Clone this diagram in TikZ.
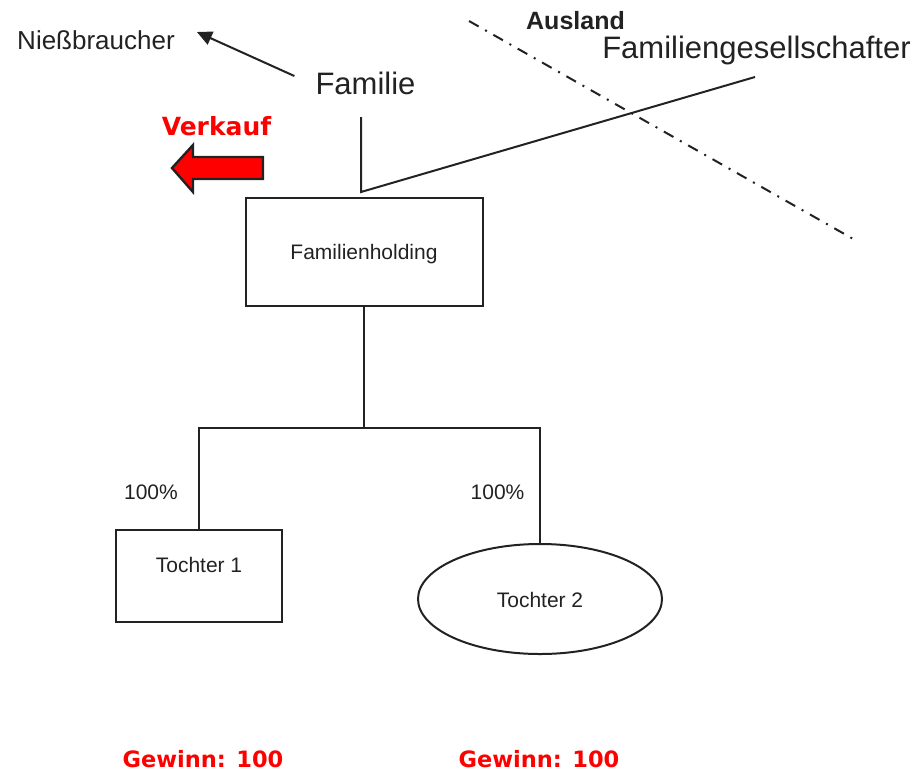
\documentclass[tikz,border=0pt]{standalone}
\usepackage{fontspec}
\setmainfont{Liberation Sans}
\newfontfamily\gewinnfont{DejaVu Sans}
\usetikzlibrary{shapes.geometric,arrows.meta}
\definecolor{ink}{RGB}{34,34,34}
\definecolor{signal}{RGB}{255,0,0}
\tikzset{
  line/.style={draw=ink,line width=2pt},
  orgbox/.style={draw=ink,line width=2pt,rectangle,inner sep=0pt},
  orgoval/.style={draw=ink,line width=2pt,ellipse,inner sep=0pt},
  lbl/.style={text=ink,inner sep=0pt,font=\fontsize{21}{24}\selectfont},
  biglbl/.style={text=ink,inner sep=0pt,font=\fontsize{31}{36}\selectfont},
  redlbl/.style={text=signal,inner sep=0pt,font=\gewinnfont\bfseries\fontsize{22.5}{26}\selectfont},
  border/.style={line width=2pt,draw=ink,dash pattern=on 11pt off 7.5pt on 2pt off 7.5pt},
}
\begin{document}
\begin{tikzpicture}[x=1pt,y=-1pt]
\useasboundingbox (0,0) rectangle (923,774);

% top: shareholders and the border line
\node[lbl,font=\fontsize{26}{30}\selectfont] (niess) at (96,40) {Nießbraucher};
\node[biglbl] (familie) at (365.5,83) {Familie};
\node[text=ink,inner sep=0pt,font=\bfseries\fontsize{25}{28}\selectfont] (ausland) at (575.5,21) {Ausland};
\node[biglbl] (gesell) at (756.5,50) {Familiengesellschafter};

\coordinate (borderA) at (469,21);
\coordinate (borderB) at (855,240);
\draw[border] (borderA) -- (borderB);

% usufruct arrow
\draw[line,-{Triangle[length=15pt,width=14pt]}]
  ([xshift=-21pt,yshift=7pt]familie.west) -- ([xshift=22pt,yshift=8pt]niess.east);

% sale arrow
\node[redlbl,font=\gewinnfont\bfseries\fontsize{25}{28}\selectfont] (verkauf) at (216.5,126) {Verkauf};
\draw[fill=signal,draw=ink,line width=2.4pt,line join=miter]
  (172,168) -- (193,145) -- (193,157) -- (263,157) -- (263,179) -- (193,179) -- (193,192) -- cycle;

% holding and the lines joining it to the shareholders
\node[orgbox,minimum width=237pt,minimum height=108pt] (holding) at (364,252) {};
\node[lbl] (holdingtxt) at (364,254) {Familienholding};
\coordinate (famfoot) at (361,117);
\coordinate (join) at (361,192);
\coordinate (gesellfoot) at (755,77);
\draw[line] (famfoot) -- (join) -- (gesellfoot);

% subsidiaries
\node[orgbox,minimum width=166pt,minimum height=92pt,
      label={[lbl,yshift=11pt]center:Tochter 1}] (t1) at (199,576) {};
\node[orgoval,minimum width=244pt,minimum height=110pt] (t2) at (540,599) {};
\node[lbl] (t2txt) at (540,600) {Tochter 2};

\coordinate (bus) at (364,428);
\draw[line] (holding.south) -- (bus);
\draw[line] (t1.north) |- (bus) -| (t2.north);

\node[lbl] (p1) at (151,492) {100\%};
\node[lbl] (p2) at (497.5,492) {100\%};

% profits
\node[redlbl] (g1) at (203,759) {Gewinn: 100};
\node[redlbl] (g2) at (539,759) {Gewinn: 100};
\end{tikzpicture}
\end{document}
